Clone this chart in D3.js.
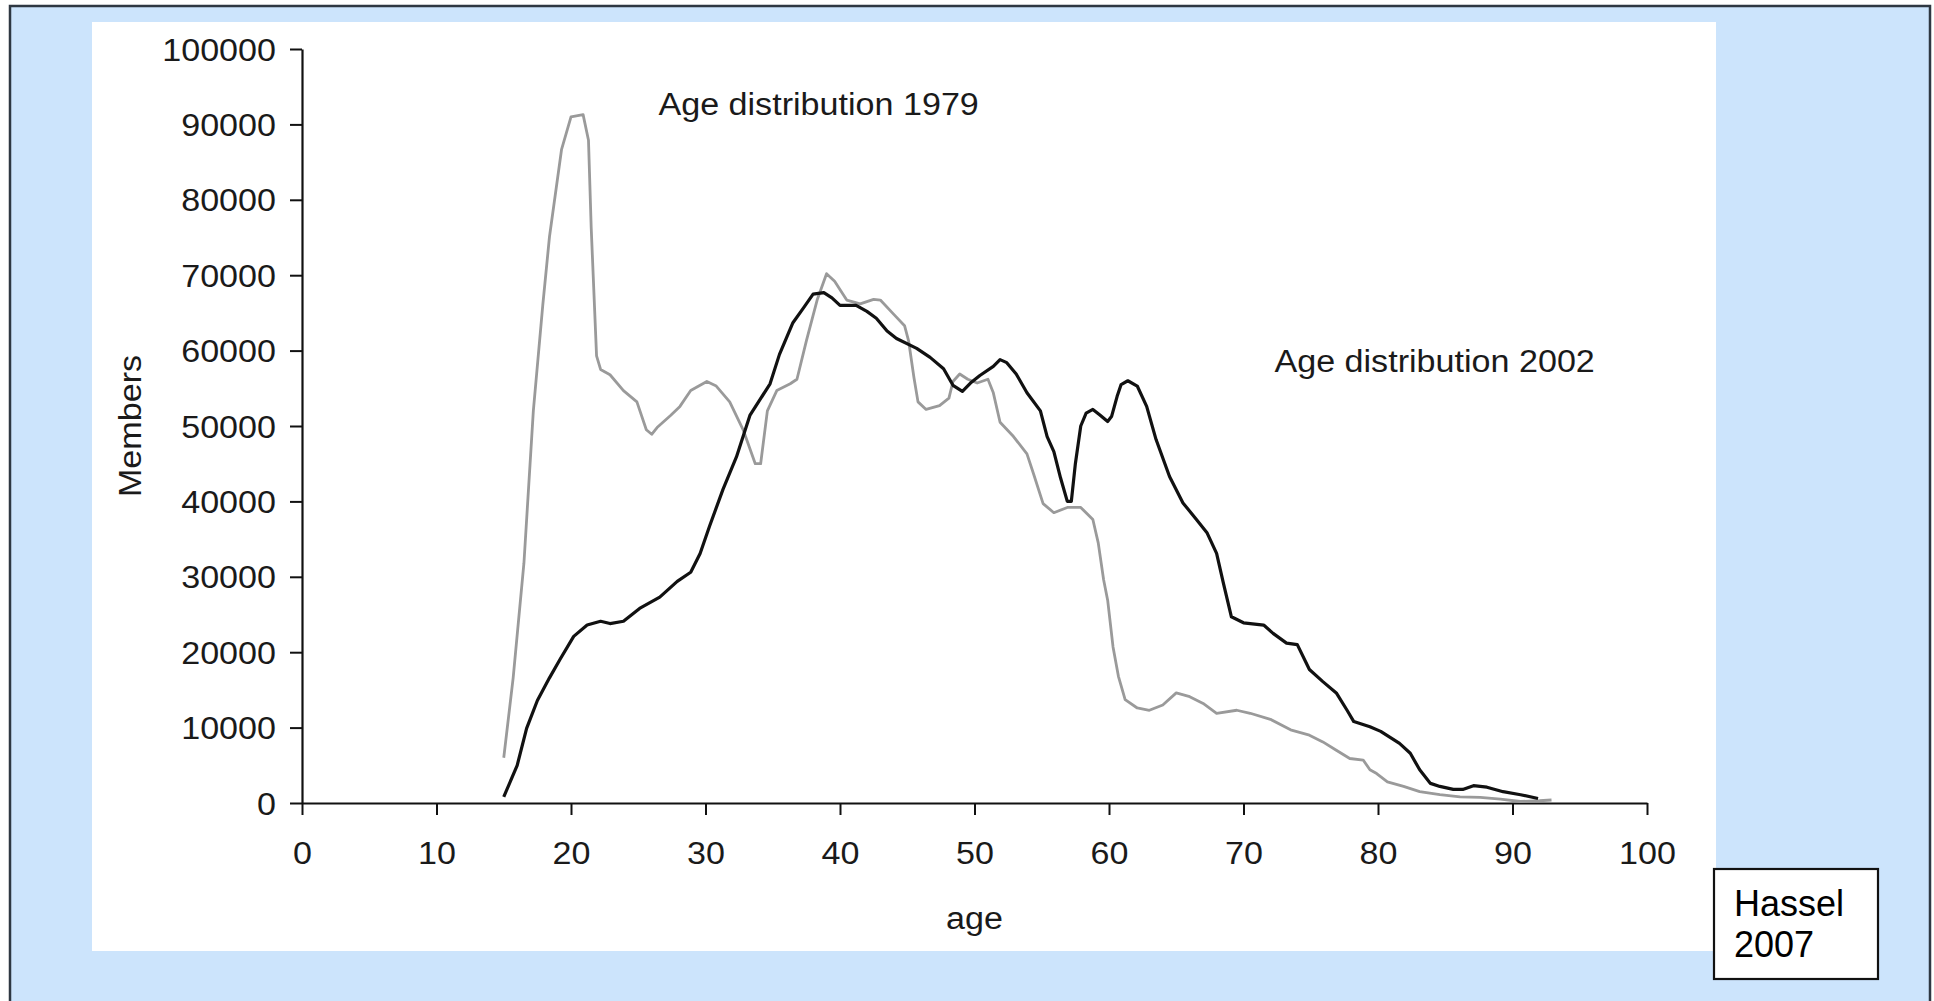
<!DOCTYPE html>
<html>
<head>
<meta charset="utf-8">
<script src="https://cdn.jsdelivr.net/npm/d3@7"></script>
<style>
  html, body { margin: 0; padding: 0; background: #ffffff; }
  svg { display: block; }
  text { font-family: "Liberation Sans", Arial, Helvetica, sans-serif; }
</style>
</head>
<body>
<svg id="chart" width="1934" height="1001"></svg>
<script>
// ---- data ----
const ages1979 = [15.0, 15.7, 16.5, 17.2, 17.9, 18.4, 19.3, 20.0, 20.9, 21.3, 21.5, 21.9, 22.2, 22.9, 23.9, 24.9, 25.6, 26.0, 26.4, 27.4, 28.1, 28.9, 30.1, 30.8, 31.8, 32.8, 33.7, 34.1, 34.6, 35.3, 36.3, 36.8, 37.5, 38.3, 39.0, 39.6, 40.5, 41.5, 42.5, 43.0, 44.0, 44.8, 45.1, 45.5, 45.8, 46.4, 47.4, 48.1, 48.4, 48.9, 49.5, 50.2, 51.0, 51.4, 51.9, 52.9, 53.9, 54.4, 55.1, 55.9, 56.9, 57.9, 58.8, 59.2, 59.6, 59.9, 60.3, 60.7, 61.2, 62.1, 63.0, 64.0, 65.0, 66.0, 67.0, 68.0, 69.5, 70.5, 72.0, 73.5, 74.9, 75.9, 76.9, 77.9, 78.9, 79.4, 79.9, 80.7, 81.9, 83.1, 84.6, 86.1, 87.6, 89.1, 90.6, 92.0, 92.9];
const members1979 = [6000, 16600, 31800, 52000, 66000, 75100, 86700, 91000, 91300, 87900, 76400, 59300, 57500, 56800, 54700, 53200, 49500, 48900, 49800, 51400, 52600, 54700, 55900, 55300, 53200, 49500, 45000, 45000, 52000, 54700, 55600, 56200, 61300, 66700, 70200, 69200, 66700, 66200, 66800, 66700, 64800, 63300, 61300, 56400, 53200, 52200, 52700, 53700, 55900, 56900, 56200, 55700, 56200, 54400, 50500, 48600, 46300, 43600, 39700, 38500, 39200, 39200, 37600, 34500, 29600, 26900, 20700, 16800, 13700, 12600, 12300, 13000, 14600, 14100, 13200, 11900, 12300, 11900, 11100, 9700, 9000, 8100, 7000, 5900, 5700, 4400, 3900, 2800, 2200, 1500, 1100, 800, 750, 500, 200, 300, 400];

const ages2002 = [15.0, 16.0, 16.7, 17.5, 18.4, 19.2, 20.2, 21.2, 22.2, 22.9, 23.9, 25.1, 26.6, 27.9, 28.9, 29.6, 30.3, 31.3, 32.3, 33.3, 34.8, 35.5, 36.5, 37.3, 38.0, 38.8, 39.4, 40.0, 41.2, 42.0, 42.7, 43.5, 44.2, 45.7, 46.7, 47.7, 48.4, 49.1, 49.7, 50.4, 51.4, 51.9, 52.4, 53.1, 53.9, 54.9, 55.4, 55.9, 56.4, 56.9, 57.2, 57.5, 57.9, 58.3, 58.8, 59.3, 59.9, 60.2, 60.6, 60.9, 61.4, 62.1, 62.8, 63.5, 64.5, 65.5, 66.5, 67.3, 68.0, 68.5, 69.1, 70.0, 71.5, 72.2, 73.2, 74.0, 74.9, 75.9, 76.9, 77.7, 78.2, 79.4, 80.2, 81.6, 82.4, 83.1, 83.9, 84.6, 85.6, 86.3, 87.1, 88.1, 89.3, 90.6, 91.9];
const members2002 = [800, 5000, 9900, 13600, 16600, 19100, 22100, 23600, 24100, 23800, 24100, 25800, 27300, 29400, 30600, 33100, 36700, 41600, 45900, 51400, 55600, 59500, 63700, 65700, 67500, 67700, 67000, 66000, 66000, 65200, 64300, 62600, 61600, 60300, 59100, 57600, 55400, 54600, 55700, 56700, 57900, 58800, 58400, 56900, 54400, 52000, 48600, 46600, 43100, 40000, 40000, 45000, 50000, 51700, 52200, 51500, 50600, 51300, 53900, 55500, 56000, 55300, 52600, 48200, 43300, 39800, 37600, 35800, 33100, 29200, 24700, 23900, 23600, 22500, 21200, 21000, 17700, 16100, 14600, 12300, 10800, 10100, 9500, 7900, 6600, 4400, 2600, 2200, 1800, 1800, 2300, 2100, 1500, 1100, 600];

const xTicks = [0, 10, 20, 30, 40, 50, 60, 70, 80, 90, 100];
const yTicks = [0, 10000, 20000, 30000, 40000, 50000, 60000, 70000, 80000, 90000, 100000];

const xLabel = "age";
const yLabel = "Members";
const label1979 = "Age distribution 1979";
const label2002 = "Age distribution 2002";
const sourceLines = ["Hassel", "2007"];

// ---- layout ----
const svg = d3.select("#chart");
const W = 1934, H = 1001;

// slide background
svg.append("rect").attr("x", 10).attr("y", 6).attr("width", 1920).attr("height", 1000)
  .attr("fill", "#cce4fc").attr("stroke", "#2e3742").attr("stroke-width", 2.5);

// white chart panel
svg.append("rect").attr("x", 92).attr("y", 22).attr("width", 1624).attr("height", 929)
  .attr("fill", "#ffffff");

const x = d3.scaleLinear().domain([0, 100]).range([302, 1647]);
const y = d3.scaleLinear().domain([0, 100000]).range([803, 49]);

const g = svg.append("g").attr("class", "plot");

// axes
const xAxis = d3.axisBottom(x).tickValues(xTicks).tickSize(12).tickSizeOuter(0).tickPadding(27)
  .tickFormat(d3.format("d"));
const yAxis = d3.axisLeft(y).tickValues(yTicks).tickSize(12).tickSizeOuter(0).tickPadding(14)
  .tickFormat(d3.format("d"));

const gx = g.append("g").attr("transform", `translate(0,${y(0)})`).call(xAxis);
const gy = g.append("g").attr("transform", `translate(${x(0)},0)`).call(yAxis);

[gx, gy].forEach(a => {
  a.select(".domain").attr("stroke", "#111").attr("stroke-width", 2.2);
  a.selectAll(".tick line").attr("stroke", "#111").attr("stroke-width", 2);
  a.selectAll(".tick text").attr("fill", "#1a1a1a").style("font-size", "31px");
});
gy.selectAll(".tick text").attr("dy", "0.36em");

// axis titles
g.append("text").attr("x", (x(0) + x(100)) / 2).attr("y", 929)
  .attr("text-anchor", "middle").attr("fill", "#1a1a1a").style("font-size", "31px").text(xLabel);
g.append("text").attr("transform", `translate(141,${(y(0) + y(100000)) / 2}) rotate(-90)`)
  .attr("text-anchor", "middle").attr("fill", "#1a1a1a").style("font-size", "31px").text(yLabel);

// lines
const line = d3.line().x(d => x(d[0])).y(d => y(d[1]));
const s1979 = ages1979.map((a, i) => [a, members1979[i]]);
const s2002 = ages2002.map((a, i) => [a, members2002[i]]);

g.append("path").datum(s1979).attr("d", line)
  .attr("fill", "none").attr("stroke", "#9a9a9a").attr("stroke-width", 2.8)
  .attr("stroke-linejoin", "round");
g.append("path").datum(s2002).attr("d", line)
  .attr("fill", "none").attr("stroke", "#111111").attr("stroke-width", 3.2)
  .attr("stroke-linejoin", "round");

// series annotations
g.append("text").attr("x", x(26.5)).attr("y", y(91300))
  .attr("fill", "#1a1a1a").style("font-size", "31px").text(label1979);
g.append("text").attr("x", x(72.3)).attr("y", y(57200))
  .attr("fill", "#1a1a1a").style("font-size", "31px").text(label2002);

// horizontally stretched glyphs like the reference image
g.selectAll("text").each(function () {
  const w = this.getComputedTextLength();
  d3.select(this).attr("textLength", w * 1.1).attr("lengthAdjust", "spacingAndGlyphs");
});

// source box
svg.append("rect").attr("x", 1714).attr("y", 869).attr("width", 164).attr("height", 110)
  .attr("fill", "#ffffff").attr("stroke", "#111").attr("stroke-width", 2.2);
const src = svg.append("text").attr("x", 1734).attr("y", 916)
  .attr("fill", "#000").style("font-size", "36px");
sourceLines.forEach((t, i) => {
  src.append("tspan").attr("x", 1734).attr("dy", i === 0 ? 0 : 41).text(t);
});
</script>
</body>
</html>
